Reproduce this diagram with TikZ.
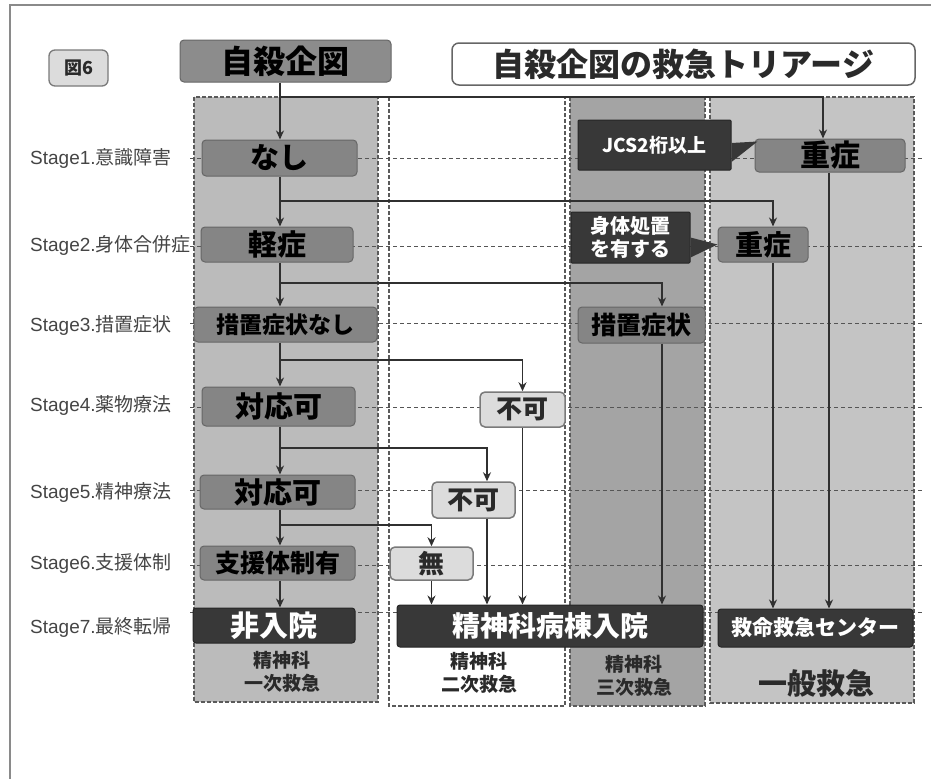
\documentclass[tikz,border=0pt]{standalone}
\usepackage{fontspec}
\setmainfont{Liberation Sans}
\newfontfamily\jp{Noto Sans CJK JP}
\usetikzlibrary{arrows.meta}
\definecolor{colA}{HTML}{BBBBBB}
\definecolor{colC}{HTML}{A4A4A4}
\definecolor{colD}{HTML}{C4C4C4}
\definecolor{dashc}{HTML}{5A5A5A}
\definecolor{stgc}{HTML}{555555}
\definecolor{boxg}{HTML}{858585}
\definecolor{boxgd}{HTML}{666666}
\definecolor{txtd}{HTML}{2A2A2A}
\definecolor{boxl}{HTML}{DCDCDC}
\definecolor{boxlb}{HTML}{7A7A7A}
\definecolor{boxdk}{HTML}{383838}
\definecolor{arrc}{HTML}{303030}
\definecolor{lblc}{HTML}{454545}
\definecolor{startc}{HTML}{8C8C8C}
\definecolor{framec}{HTML}{8A8A8A}
\newcommand\fsz[1]{\fontsize{#1}{#1}\selectfont}
\tikzset{
  colbox/.style={draw=dashc, line width=1.2pt, dash pattern=on 4pt off 2pt},
  stgline/.style={draw=stgc, line width=1pt, dash pattern=on 4pt off 3pt},
  gbox/.style={rounded corners=4pt, fill=boxg, draw=boxgd, line width=1pt, text=black, font=\jp\bfseries, inner sep=0pt},
  lbox/.style={rounded corners=5pt, fill=boxl, draw=boxlb, line width=1.5pt, text=txtd, font=\jp\bfseries, inner sep=0pt},
  dbox/.style={rounded corners=3pt, fill=boxdk, draw=black!85, line width=1pt, text=white, font=\jp\bfseries, inner sep=0pt},
  arr/.style={draw=arrc, line width=1.8pt, -{Stealth[length=9pt,width=8pt]}},
  stglbl/.style={anchor=west, text=lblc, inner sep=0pt, font=\fsz{19}},
  sublbl/.style={text=txtd, font=\jp\bfseries\fontsize{19}{23}\selectfont, align=center, inner sep=0pt},
}
\begin{document}
\begin{tikzpicture}[x=1pt,y=-1pt]
\useasboundingbox (0,0) rectangle (931,779);
\fill[white] (0,0) rectangle (931,779);
% outer frame
\draw[framec, line width=1.5pt] (931,5) -- (10,5) -- (10,779);
% columns
\fill[colA] (194,97) rectangle (378,702);
\draw[colbox] (194,97) rectangle (378,702);
\draw[colbox] (389,97) rectangle (565,706);
\fill[colC] (570,97) rectangle (705,706);
\draw[colbox] (570,97) rectangle (705,706);
\fill[colD] (710,97) rectangle (914,703);
\draw[colbox] (710,97) rectangle (914,703);
% stage lines
\foreach \yy in {158,246,323,407,490,565,612}
  \draw[stgline] (190,\yy) -- (924,\yy);
% stage labels
\node[stglbl] (s1) at (30,158) {Stage1.{\jp 意識障害}};
\node[stglbl] (s2) at (30,245) {Stage2.{\jp 身体合併症}};
\node[stglbl] (s3) at (30,325) {Stage3.{\jp 措置症状}};
\node[stglbl] (s4) at (30,405) {Stage4.{\jp 薬物療法}};
\node[stglbl] (s5) at (30,492) {Stage5.{\jp 精神療法}};
\node[stglbl] (s6) at (30,563) {Stage6.{\jp 支援体制}};
\node[stglbl] (s7) at (30,627) {Stage7.{\jp 最終転帰}};
% header
\node[rounded corners=6pt, fill=boxl, draw=boxlb, line width=1.3pt, text=txtd, font=\jp\bfseries\fsz{18}, minimum width=59pt, minimum height=36pt, inner sep=0pt] (fig) at (78.5,68) {図6};
\node[rounded corners=4pt, fill=startc, draw=boxgd, line width=1pt, text=black, font=\jp\bfseries\fsz{32}, minimum width=211pt, minimum height=42pt, inner sep=0pt] (start) at (285.5,61) {自殺企図};
\node[rounded corners=7pt, fill=white, draw=boxgd, line width=1.5pt, text=txtd, font=\jp\bfseries\fsz{32}, minimum width=463pt, minimum height=42pt, inner sep=0pt] (title) at (683.5,64) {自殺企図の救急トリアージ};
% column 1
\coordinate (T) at (280,0);
\node[gbox, minimum width=155pt, minimum height=36pt, font=\jp\bfseries\fsz{29}] (nashi) at (279.5,158) {なし};
\node[gbox, minimum width=152pt, minimum height=35pt, font=\jp\bfseries\fsz{29}] (keisho) at (277,244.5) {軽症};
\node[gbox, minimum width=183pt, minimum height=35pt, font=\jp\bfseries\fsz{23}] (sochinashi) at (285.5,324.5) {措置症状なし};
\node[gbox, minimum width=153pt, minimum height=39pt, font=\jp\bfseries\fsz{29}] (taiou4) at (278.5,406.5) {対応可};
\node[gbox, minimum width=155pt, minimum height=34pt, font=\jp\bfseries\fsz{29}] (taiou5) at (277.5,492) {対応可};
\node[gbox, minimum width=155pt, minimum height=34pt, font=\jp\bfseries\fsz{25}] (shien) at (277.5,563) {支援体制有};
\node[dbox, minimum width=162pt, minimum height=35pt, font=\jp\bfseries\fsz{29}] (hinyuin) at (274,625.5) {非入院};
\node[sublbl] (l1) at (282,671.5) {精神科\\一次救急};
% column 2
\node[lbox, minimum width=85pt, minimum height=35pt, font=\jp\bfseries\fsz{26}] (fuka4) at (522.5,409.5) {不可};
\node[lbox, minimum width=83pt, minimum height=36pt, font=\jp\bfseries\fsz{26}] (fuka5) at (473.5,500) {不可};
\node[lbox, minimum width=83pt, minimum height=33pt, font=\jp\bfseries\fsz{26}] (mu) at (431.5,563.5) {無};
\node[dbox, minimum width=306pt, minimum height=42pt, font=\jp\bfseries\fsz{28}] (seishin) at (550,626) {精神科病棟入院};
\node[sublbl] (l2) at (479,672.5) {精神科\\二次救急};
% column 3
\node[dbox, rounded corners=1pt, minimum width=153pt, minimum height=50pt, font=\jp\bfseries\fsz{19}] (jcs) at (654.5,145) {JCS2桁以上};
\node[dbox, rounded corners=1pt, minimum width=119pt, minimum height=51pt, font=\jp\bfseries\fontsize{20}{23}\selectfont, align=center] (shintai) at (630.5,237.5) {身体処置\\を有する};
\node[gbox, minimum width=127pt, minimum height=36pt, font=\jp\bfseries\fsz{25}] (sochi) at (641.5,325) {措置症状};
\node[sublbl] (l3) at (634,676) {精神科\\三次救急};
% column 4
\node[gbox, minimum width=150pt, minimum height=33pt, font=\jp\bfseries\fsz{30}] (jushou1) at (830,155.5) {重症};
\node[gbox, minimum width=90pt, minimum height=35pt, font=\jp\bfseries\fsz{28}] (jushou2) at (763,244.5) {重症};
\node[dbox, minimum width=195pt, minimum height=38pt, font=\jp\bfseries\fsz{21}] (kyumei) at (815.5,628) {救命救急センター};
\node[text=txtd, font=\jp\bfseries\fsz{29}, inner sep=0pt] (ippan) at (816,683) {一般救急};
% callout tails
\fill[boxdk] ([yshift=2pt]jcs.east) -- ([xshift=3pt,yshift=14pt]jushou1.west) -- ([yshift=-17pt]jcs.east) -- cycle;
\fill[boxdk] ([yshift=0pt]shintai.east) -- (jushou2.west) -- ([yshift=-20pt]shintai.east) -- cycle;
% trunk
\coordinate (j0) at (280,97);
\coordinate (j1) at (280,201);
\coordinate (j2) at (280,283);
\coordinate (j3) at (280,360);
\coordinate (j4) at (280,448);
\coordinate (j5) at (280,525);
\draw[arr] (start.south -| T) -- (nashi.north -| T);
\draw[arr] (nashi.south -| T) -- (keisho.north -| T);
\draw[arr] (keisho.south -| T) -- (sochinashi.north -| T);
\draw[arr] (sochinashi.south -| T) -- (taiou4.north -| T);
\draw[arr] (taiou4.south -| T) -- (taiou5.north -| T);
\draw[arr] (taiou5.south -| T) -- (shien.north -| T);
\draw[arr] (shien.south -| T) -- (hinyuin.north -| T);
% branches
\draw[arr] (j0) -| ([xshift=-7pt]jushou1.north);
\draw[arr] (j1) -| ([xshift=10pt]jushou2.north);
\draw[arr] (j2) -| ([xshift=20.5pt]sochi.north);
\draw[arr] (j3) -| (fuka4.north);
\draw[arr] (j4) -| ([xshift=13.5pt]fuka5.north);
\draw[arr] (j5) -| (mu.north);
% downward to outcomes
\draw[arr] (mu.south) -- (mu.south |- seishin.north);
\draw[arr] ([xshift=13.5pt]fuka5.south) -- ([xshift=13.5pt]fuka5.south |- seishin.north);
\draw[arr] (fuka4.south) -- (fuka4.south |- seishin.north);
\draw[arr] ([xshift=20.5pt]sochi.south) -- ([xshift=20.5pt]sochi.south |- seishin.north);
\draw[arr] ([xshift=10pt]jushou2.south) -- ([xshift=10pt]jushou2.south |- kyumei.north);
\draw[arr] ([xshift=-1pt]jushou1.south) -- ([xshift=-1pt]jushou1.south |- kyumei.north);
\end{tikzpicture}
\end{document}
